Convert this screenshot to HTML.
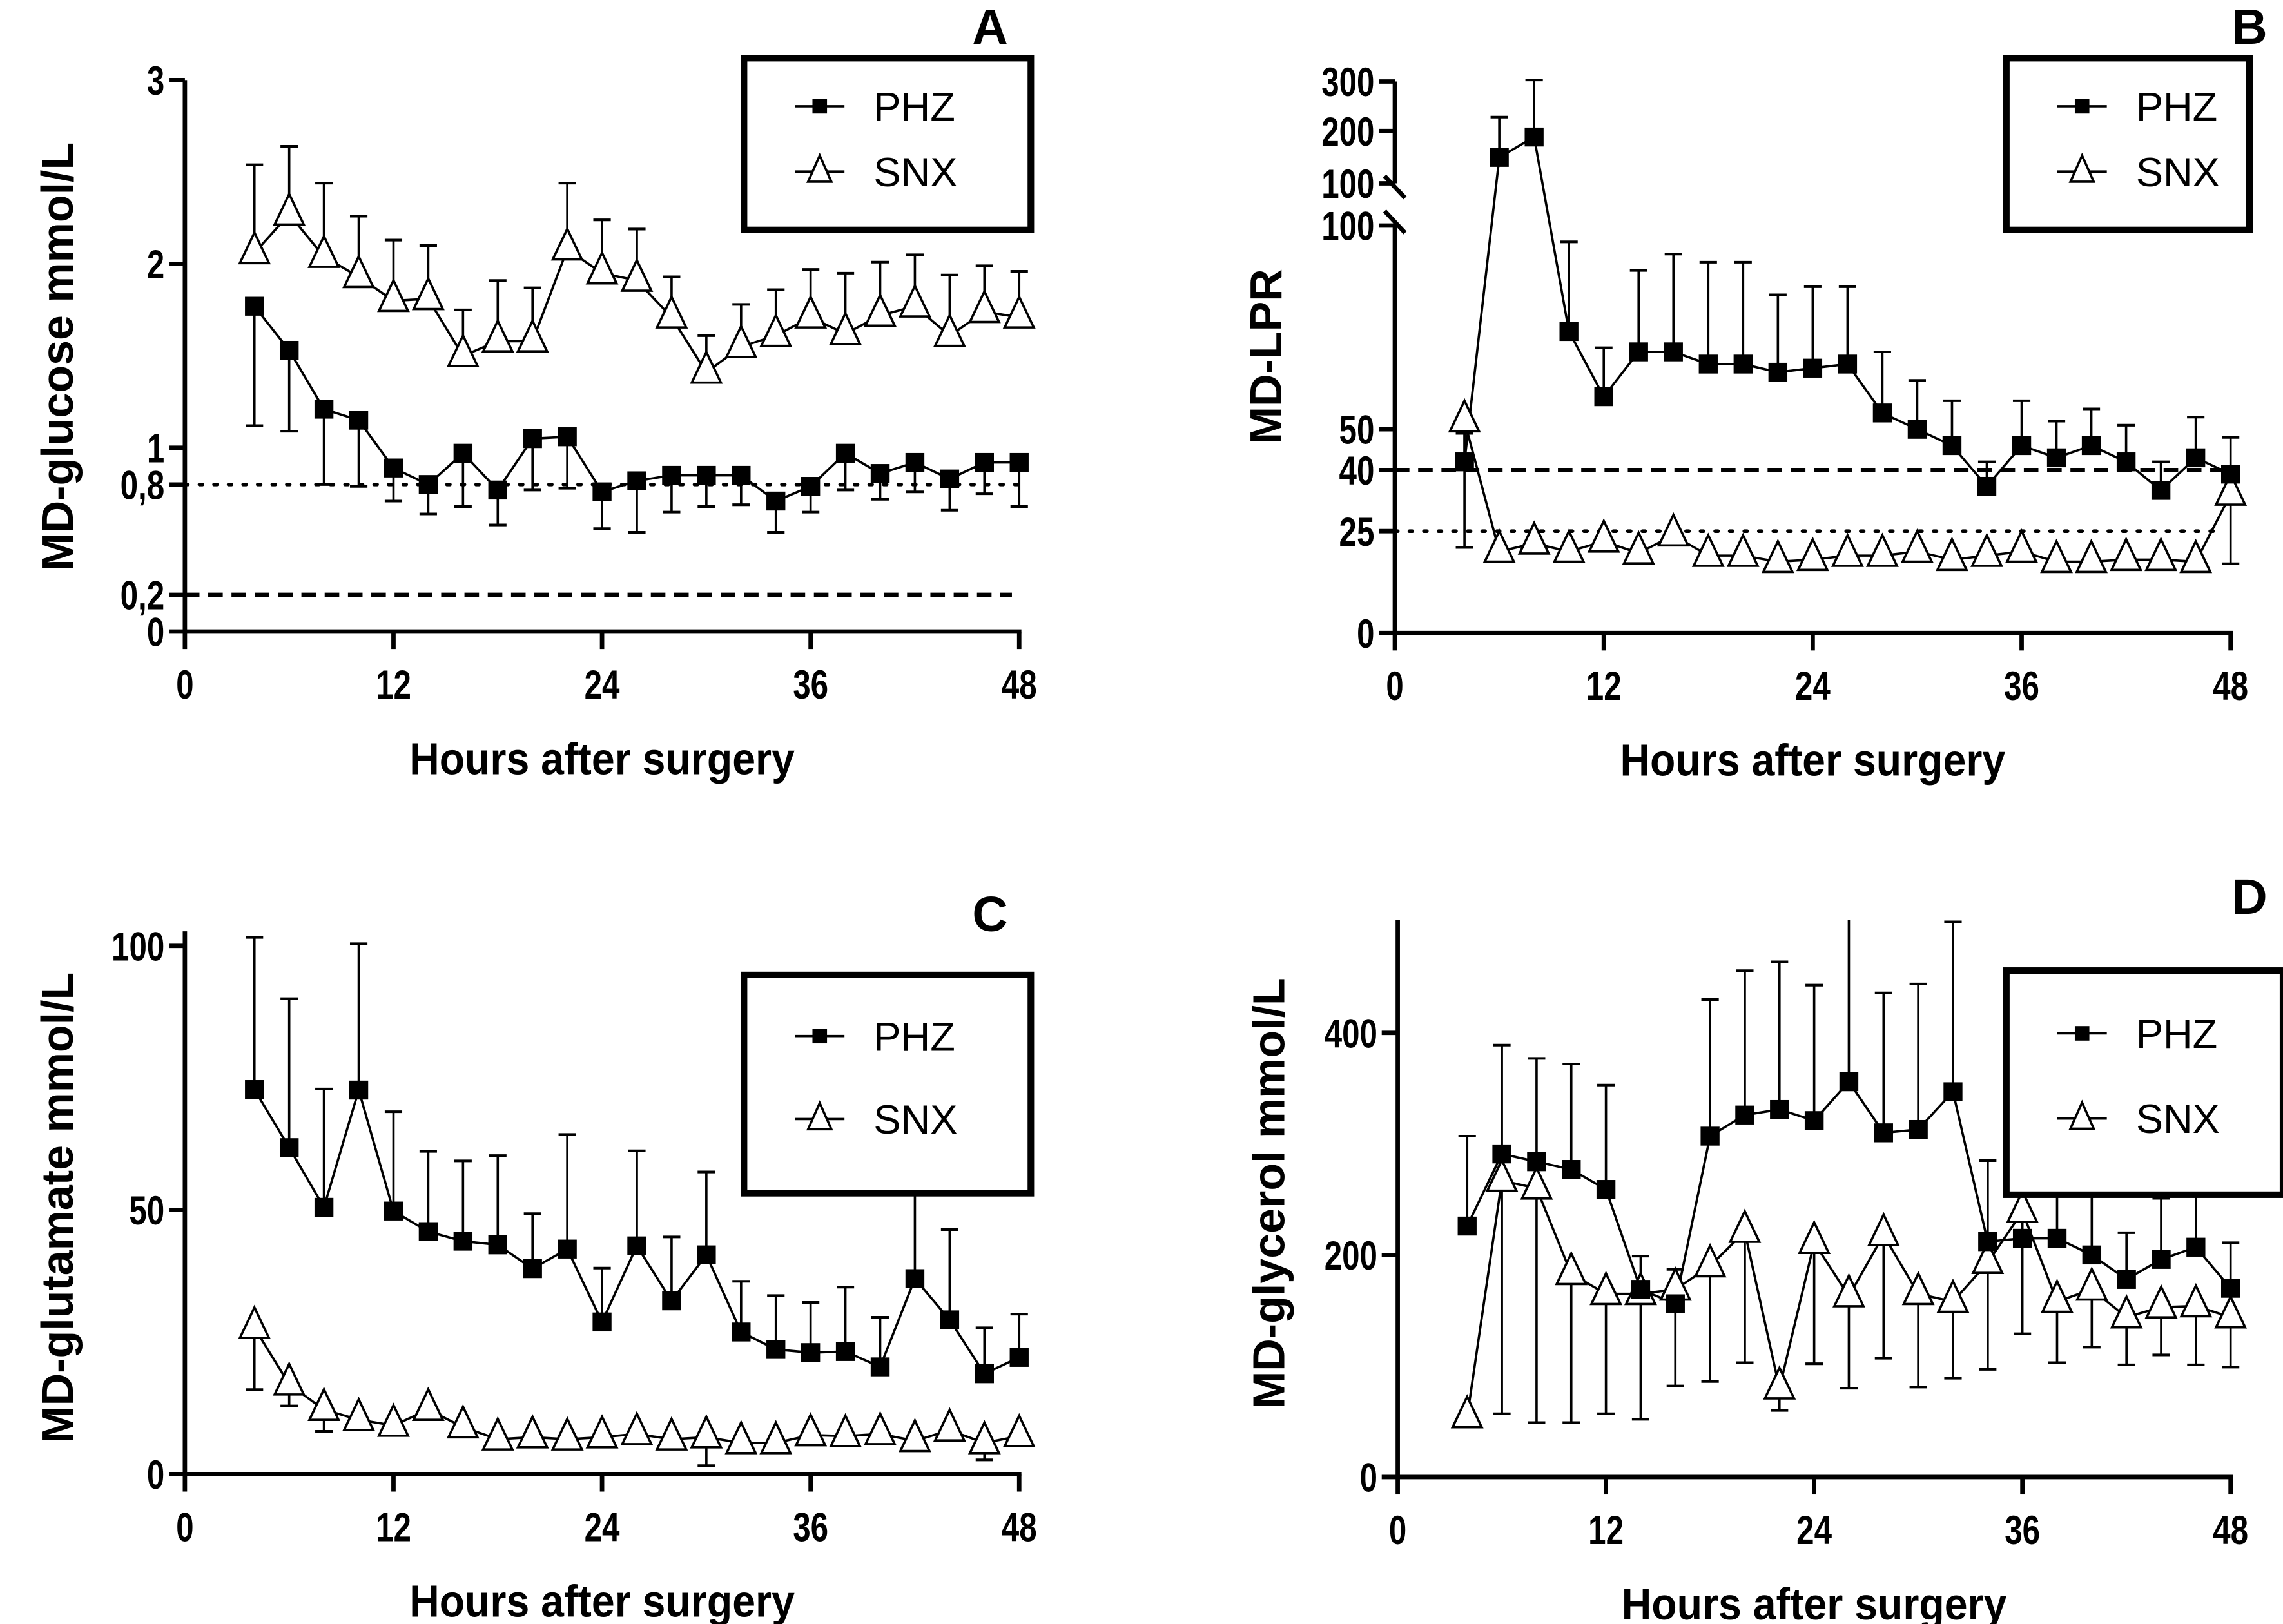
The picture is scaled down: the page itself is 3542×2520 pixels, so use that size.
<!DOCTYPE html>
<html><head><meta charset="utf-8">
<style>
html,body{margin:0;padding:0;background:#fff;}
svg{display:block;}
.tk{font-family:"Liberation Sans",sans-serif;font-weight:bold;font-size:28px;fill:#000;}
.ttl{font-family:"Liberation Sans",sans-serif;font-weight:bold;font-size:31px;fill:#000;}
.lg{font-family:"Liberation Sans",sans-serif;font-size:28px;fill:#000;}
.let{font-family:"Liberation Sans",sans-serif;font-weight:bold;font-size:34px;fill:#000;}
</style></head>
<body>
<svg id="fig" width="3542" height="2520" viewBox="0 0 1568 1116" preserveAspectRatio="none" xmlns="http://www.w3.org/2000/svg"></svg>
<script>
const hours=[4,6,8,10,12,14,16,18,20,22,24,26,28,30,32,34,36,38,40,42,44,46,48];
const xTicks=[0,12,24,36,48];
// Panel A glucose
const aPhz=[1.77,1.53,1.21,1.15,0.89,0.8,0.97,0.77,1.05,1.06,0.76,0.82,0.85,0.85,0.85,0.71,0.79,0.97,0.86,0.92,0.83,0.92,0.92];
const aPhzErr=[0.65,0.44,0.41,0.36,0.18,0.16,0.29,0.19,0.28,0.28,0.2,0.28,0.2,0.17,0.16,0.17,0.14,0.2,0.14,0.16,0.17,0.17,0.24];
const aSnx=[2.06,2.27,2.04,1.93,1.8,1.81,1.5,1.58,1.58,2.08,1.95,1.91,1.71,1.41,1.55,1.61,1.71,1.62,1.72,1.77,1.61,1.74,1.71];
const aSnxErr=[0.48,0.37,0.4,0.33,0.33,0.29,0.25,0.33,0.29,0.36,0.29,0.28,0.22,0.2,0.23,0.25,0.26,0.33,0.29,0.28,0.33,0.25,0.25];
const aYTicks=[0,0.2,0.8,1,2,3];
const aYLabels=["0","0,2","0,8","1","2","3"];
// Panel B LPR
const bPhz=[42,151,191,74,58,69,69,66,66,64,65,66,54,50,46,36,46,43,46,42,35,43,39];
const bPhzErr=[7,79,112,22,12,20,24,25,25,19,20,19,15,12,11,6,11,9,9,9,7,10,9];
const bSnx=[52,20,22,20,22.5,19.6,24,19,19,17.5,18,19,19,20,18,19,20,17.5,17.5,18,18,17.5,34];
const bSnxErr=[31,0,0,0,0,0,0,0,0,0,0,0,0,0,0,0,0,0,0,0,0,0,17];
const bYTicks=[0,25,40,50,100,100,200,300];
// Panel C glutamate
const cPhz=[72.8,61.8,50.5,72.7,49.8,45.9,44.1,43.4,38.9,42.6,28.8,43.2,32.8,41.5,26.9,23.6,23.0,23.2,20.3,37.0,29.2,19.0,22.1];
const cPhzErr=[28.8,28.2,22.4,27.7,18.8,15.2,15.2,16.9,10.4,21.7,10.2,18,12.1,15.7,9.6,10.2,9.5,12.2,9.4,16.7,17.1,8.7,8.2];
const cSnx=[27.7,17,12.2,10.3,9.2,12.2,8.9,6.6,7,6.6,7,7.6,6.6,7,5.9,5.9,7.4,7.2,7.6,6.3,8.3,5.9,7.2];
const cSnxErr=[11.7,4.1,4.1,0,0,0,0,0,0,0,0,0,0,5.4,0,0,0,0,0,0,0,3.2,0];
const cYTicks=[0,50,100];
// Panel D glycerol
const dPhz=[226,291,284,277,259,169,156,307,326,331,321,356,310,313,347,212,215,215,200,178,196,207,170];
const dPhzErr=[81,98,93,95,94,30,31,123,130,133,122,150,126,131,153,73,77,63,56,42,55,56,41];
const dSnx=[54,267,260,183,165,165,169,190,221,80,211,163,218,165,158,193,239,158,169,144,153,154,144];
const dSnxErr=[0,210,211,134,108,113,87,104,118,20,109,83,111,84,69,96,110,55,52,43,43,53,45];
const dYTicks=[0,200,400];

const NS="http://www.w3.org/2000/svg";
const fig=document.getElementById('fig');
function mk(tag,attrs,parent){const e=document.createElementNS(NS,tag);for(const k in attrs)e.setAttribute(k,attrs[k]);(parent||fig).appendChild(e);return e;}
function txt(s,x,y,cls,anchor,parent){const t=mk('text',{x:x,y:y,'class':cls,'text-anchor':anchor||'middle'},parent);t.textContent=s;return t;}
function narrow(t,f){try{const w=t.getComputedTextLength();if(w>0){t.setAttribute('textLength',(w*f).toFixed(1));t.setAttribute('lengthAdjust','spacingAndGlyphs');}}catch(e){}}

function panel(o){
  const g=mk('g',{});
  
  
  const xs=h=>o.x0+(o.x1-o.x0)*h/48;
  const ys=o.ys;
  const xa=mk('line',{x1:o.x0-1.5,y1:o.yb,x2:o.x1+1.5,y2:o.yb,stroke:'#000','stroke-width':3},g);
  
  
  o.yaxisSegs.forEach(s=>{const l=mk('line',{x1:o.x0,y1:s[0],x2:o.x0,y2:s[1],stroke:'#000','stroke-width':3},g);
    
    });
  xTicks.forEach(t=>{mk('line',{x1:xs(t),y1:o.yb,x2:xs(t),y2:o.yb+12,stroke:'#000','stroke-width':3},g);
    const tl=txt(String(t),xs(t),o.yb+46,'tk','middle',g);
    narrow(tl,0.78);
    
    });
  o.yTicks.forEach((t,i)=>{const y=o.yTickPos?o.yTickPos[i]:ys(t);
    mk('line',{x1:o.x0-11,y1:y,x2:o.x0,y2:y,stroke:'#000','stroke-width':3},g);
    const tl=txt(o.yLabels?o.yLabels[i]:String(t),o.x0-14,y+10,'tk','end',g);
    narrow(tl,0.78);
    
    });
  const xt=txt('Hours after surgery',(o.x0+o.x1)/2,o.yb+98,'ttl','middle',g);
  narrow(xt,0.92);
  
  
  const yt=txt(o.ytitle,0,0,'ttl','middle',g);
  yt.setAttribute('transform','translate('+o.ytx+','+o.yty+') rotate(-90)');
  
  
  const lt=txt(o.letter,o.letX,o.letY,'let','middle',g);
  
  
  (o.refs||[]).forEach(r=>{const l=mk('line',{x1:o.x0,y1:ys(r.v),x2:r.x2,y2:ys(r.v),stroke:'#000','stroke-width':r.dot?2.5:3,'stroke-dasharray':r.dot?'2 8':'10 6','stroke-linecap':r.dot?'round':'butt'},g);
    
    });
  function errs(vals,err,dir,nm){vals.forEach((v,i)=>{if(!err[i])return;const x=xs(hours[i]);const y2=Math.max(o.ytop,ys(v+dir*err[i]));
    const e=mk('g',{},g);
    
    
    mk('line',{x1:x,y1:ys(v),x2:x,y2:y2,stroke:'#000','stroke-width':1.6},e);
    if(ys(v+dir*err[i])>=o.ytop) mk('line',{x1:x-6,y1:y2,x2:x+6,y2:y2,stroke:'#000','stroke-width':1.8},e);});}
  errs(o.phz,o.phzErr,o.phzDir,'phz-error-bar');
  errs(o.snx,o.snxErr,o.snxDir,'snx-error-bar');
  [[o.snx,'snx-line'],[o.phz,'phz-line']].forEach(([vals,nm])=>{const p=mk('polyline',{points:vals.map((v,i)=>xs(hours[i])+','+ys(v)).join(' '),fill:'none',stroke:'#000','stroke-width':1.6},g);
    
    });
  o.snx.forEach((v,i)=>{const x=xs(hours[i]),y=ys(v);const m=mk('polygon',{points:(x)+','+(y-14)+' '+(x-10)+','+(y+7)+' '+(x+10)+','+(y+7),fill:'#fff',stroke:'#000','stroke-width':1.6},g);
    
    });
  o.phz.forEach((v,i)=>{const x=xs(hours[i]),y=ys(v);const m=mk('rect',{x:x-6.5,y:y-6.5,width:13,height:13,fill:'#000'},g);
    
    });
  const L=o.leg;const lg=mk('g',{},g);
  
  
  mk('rect',{x:L.x,y:L.y,width:L.w,height:L.h,fill:'#fff',stroke:'#000','stroke-width':4.5},lg);
  const cx=L.x+52;const y1=L.y+L.h*0.28,y2=L.y+L.h*0.66;
  mk('line',{x1:cx-17,y1:y1,x2:cx+17,y2:y1,stroke:'#000','stroke-width':1.6},lg);
  mk('rect',{x:cx-5,y:y1-5,width:10,height:10,fill:'#000'},lg);
  mk('line',{x1:cx-17,y1:y2,x2:cx+17,y2:y2,stroke:'#000','stroke-width':1.6},lg);
  mk('polygon',{points:cx+','+(y2-11)+' '+(cx-8)+','+(y2+7)+' '+(cx+8)+','+(y2+7),fill:'#fff',stroke:'#000','stroke-width':1.6},lg);
  const t1=txt('PHZ',cx+37,y1+10,'lg','start',lg);
  
  
  const t2=txt('SNX',cx+37,y2+10,'lg','start',lg);
  
  
}

panel({name:'panel-a-glucose',x0:127,x1:700,yb:434,ytop:55,ys:v=>434-v*126.3,phz:aPhz,phzErr:aPhzErr,phzDir:-1,snx:aSnx,snxErr:aSnxErr,snxDir:1,
  yTicks:aYTicks,yLabels:aYLabels,yaxisSegs:[[55,435.5]],
  refs:[{v:0.8,dot:true,x2:700},{v:0.2,dot:false,x2:695}],
  ytitle:'MD-glucose mmol/L',ytx:50,yty:245,letter:'A',letX:680,letY:30,leg:{x:511,y:40,w:197,h:118}});
const bys=v=>v<=100?435-v*2.8:126-(v-100)*0.35;
panel({name:'panel-b-lpr',x0:958,x1:1532,yb:435,ytop:50,ys:bys,phz:bPhz,phzErr:bPhzErr,phzDir:1,snx:bSnx,snxErr:bSnxErr,snxDir:-1,
  yTicks:bYTicks,yTickPos:[435,365,323,295,155,126,90,56],yaxisSegs:[[56,126],[155,436.5]],
  refs:[{v:40,dot:false,x2:1535},{v:25,dot:true,x2:1520}],
  ytitle:'MD-LPR',ytx:880,yty:245,letter:'B',letX:1545,letY:30,leg:{x:1378,y:40,w:167,h:118}});
mk('line',{x1:951,y1:121,x2:965,y2:136,stroke:'#000','stroke-width':3});
mk('line',{x1:951,y1:145,x2:965,y2:160,stroke:'#000','stroke-width':3});
panel({name:'panel-c-glutamate',x0:127,x1:700,yb:1013,ytop:640,ys:v=>1013-v*3.63,phz:cPhz,phzErr:cPhzErr,phzDir:1,snx:cSnx,snxErr:cSnxErr,snxDir:-1,
  yTicks:cYTicks,yaxisSegs:[[640,1014.5]],refs:[],
  ytitle:'MD-glutamate mmol/L',ytx:50,yty:830,letter:'C',letX:680,letY:640,leg:{x:511,y:670,w:197,h:150}});
panel({name:'panel-d-glycerol',x0:960,x1:1532,yb:1015,ytop:632,ys:v=>1015-v*0.763,phz:dPhz,phzErr:dPhzErr,phzDir:1,snx:dSnx,snxErr:dSnxErr,snxDir:-1,
  yTicks:dYTicks,yaxisSegs:[[632,1016.5]],refs:[],
  ytitle:'MD-glycerol mmol/L',ytx:882,yty:820,letter:'D',letX:1545,letY:628,leg:{x:1378,y:667,w:190,h:154}});
</script>
</body></html>
